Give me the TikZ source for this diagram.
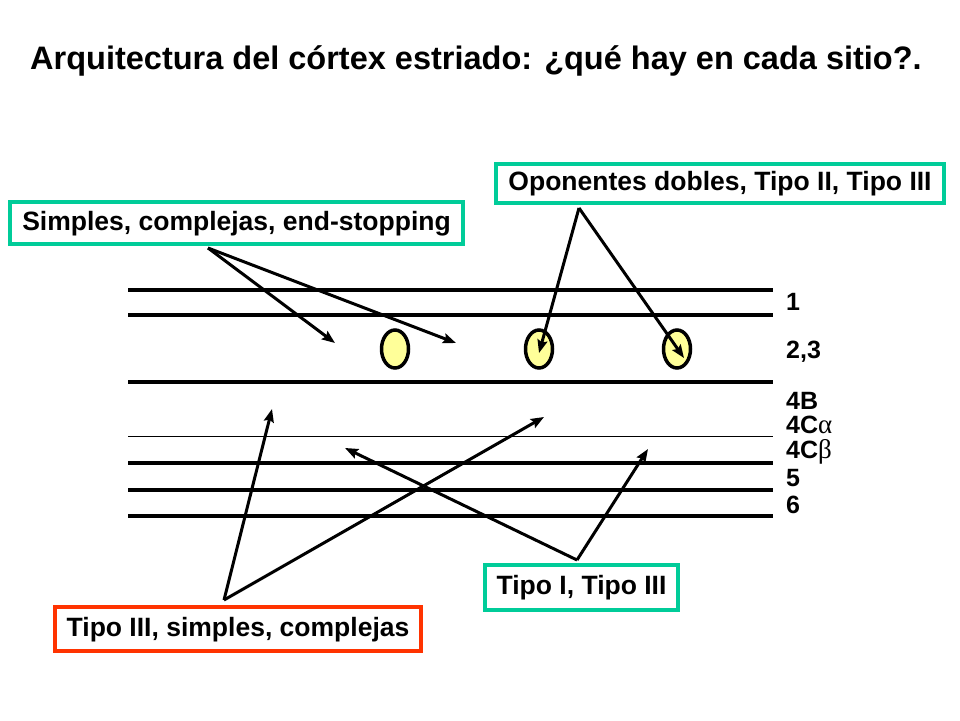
\documentclass[tikz,border=0pt]{standalone}
\usepackage{fontspec}
\setmainfont{Liberation Sans}
\newfontfamily\grkfont{Liberation Serif}
\usetikzlibrary{arrows.meta,shapes.geometric}
\definecolor{teal}{RGB}{0,204,153}
\definecolor{redbox}{RGB}{255,51,0}
\definecolor{cellfill}{RGB}{255,255,153}
\tikzset{
  layer/.style={line width=4pt},
  thinlayer/.style={line width=0.9pt},
  tealbox/.style={draw=teal, line width=4pt, inner sep=0pt, font=\fontsize{26.5}{30}\selectfont\bfseries, text height=19pt, text depth=5pt},
  redbox/.style={draw=redbox, line width=4pt, inner sep=0pt, font=\fontsize{26.5}{30}\selectfont\bfseries, text height=19pt, text depth=5pt},
  layerlab/.style={font=\fontsize{25}{28}\selectfont\bfseries, inner sep=0pt, anchor=west, text height=18pt, text depth=0pt},
  cell/.style={ellipse, draw=black, line width=3.5pt, fill=cellfill, minimum width=27pt, minimum height=38pt, inner sep=0pt},
  arr/.style={line width=3pt, -{Stealth[length=13pt,width=10pt,inset=2pt]}}
}
\newcommand{\grk}[1]{{\grkfont\mdseries\fontsize{27}{30}\selectfont #1}}
\begin{document}
\begin{tikzpicture}[x=1pt,y=-1pt]
\useasboundingbox (0,0) rectangle (960,720);
% title
\node[anchor=west, inner sep=0pt, font=\fontsize{32.5}{36}\selectfont\bfseries, text height=23pt, text depth=0pt] (title) at (30,58) {Arquitectura del córtex estriado: ¿qué hay en cada sitio?.};
% layer lines
\coordinate (l1a) at (128,290); \coordinate (l1b) at (773,290);
\coordinate (l2a) at (128,315); \coordinate (l2b) at (773,315);
\coordinate (l3a) at (128,382); \coordinate (l3b) at (773,382);
\coordinate (l4a) at (128,436); \coordinate (l4b) at (773,436);
\coordinate (l5a) at (128,463); \coordinate (l5b) at (773,463);
\coordinate (l6a) at (128,490); \coordinate (l6b) at (773,490);
\coordinate (l7a) at (128,516); \coordinate (l7b) at (773,516);
\draw[layer] (l1a) -- (l1b);
\draw[layer] (l2a) -- (l2b);
\draw[layer] (l3a) -- (l3b);
\draw[thinlayer] (l4a) -- (l4b);
\draw[layer] (l5a) -- (l5b);
\draw[layer] (l6a) -- (l6b);
\draw[layer] (l7a) -- (l7b);
% layer labels
\node[layerlab] (n1) at (786,301) {1};
\node[layerlab] (n23) at (786,349) {2,3};
\node[layerlab] (n4b) at (786,400) {4B};
\node[layerlab] (n4ca) at (786,424) {4C\grk{α}};
\node[layerlab] (n4cb) at (786,449) {4C\grk{β}};
\node[layerlab] (n5) at (786,477) {5};
\node[layerlab] (n6) at (786,504) {6};
% cells
\node[cell] (e1) at (395,349) {};
\node[cell] (e2) at (539,349) {};
\node[cell] (e3) at (677,349) {};
% boxes
\node[tealbox, minimum width=453pt, minimum height=42pt] (b1) at (236.5,223) {Simples, complejas, end-stopping};
\node[tealbox, minimum width=448pt, minimum height=39pt] (b2) at (720,183.5) {Oponentes dobles, Tipo II, Tipo III};
\node[tealbox, minimum width=193pt, minimum height=45pt] (b3) at (581.5,587.5) {Tipo I, Tipo III};
\node[redbox, minimum width=366pt, minimum height=44pt] (b4) at (238,629) {Tipo III, simples, complejas};
% arrow coordinates
\coordinate (s1) at (208,248);
\coordinate (t1a) at (335,343);
\coordinate (t1b) at (456,343);
\coordinate (s2) at (579,208);
\coordinate (t2a) at (539,353);
\coordinate (t2b) at (684,358);
\coordinate (s4) at (224,600);
\coordinate (t4a) at (272,409);
\coordinate (t4b) at (544,417);
\coordinate (s3) at (577,560);
\coordinate (t3a) at (345,448);
\coordinate (t3b) at (648,449);
\draw[arr] (s1) -- (t1a);
\draw[arr] (s1) -- (t1b);
\draw[arr] (s2) -- (t2a);
\draw[arr] (s2) -- (t2b);
\draw[arr] (s4) -- (t4a);
\draw[arr] (s4) -- (t4b);
\draw[arr] (s3) -- (t3a);
\draw[arr] (s3) -- (t3b);
\end{tikzpicture}
\end{document}
